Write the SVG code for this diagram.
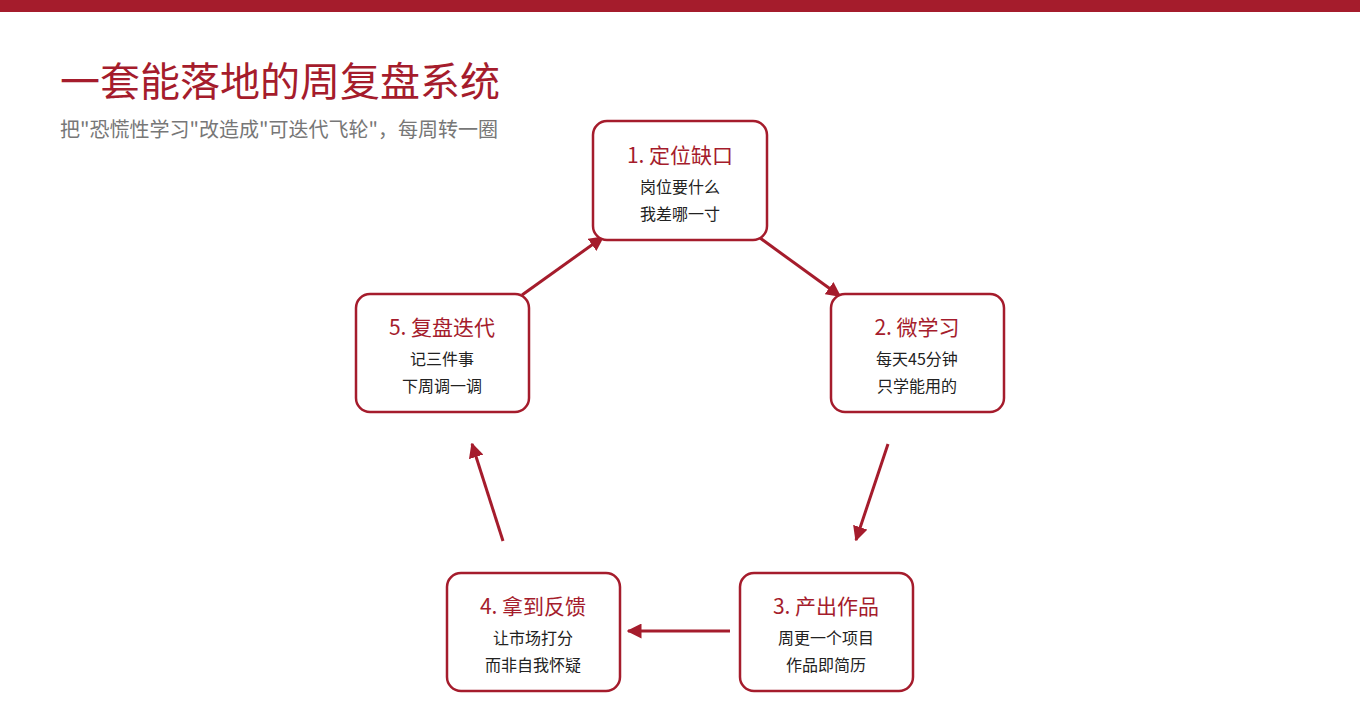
<svg xmlns="http://www.w3.org/2000/svg" width="1360" height="720" viewBox="0 0 1360 720">
<style>
text{font-family:"Noto Sans CJK SC","Noto Sans",sans-serif}
.box{fill:#fff;stroke:#A51C2C;stroke-width:2.5}
.h{font-size:21px;fill:#A51C2C;text-anchor:middle}
.s{font-size:16px;fill:#222;text-anchor:middle}
.c{stroke:#A51C2C;stroke-width:3;fill:none;marker-end:url(#a)}
</style>
<defs><marker id="a" viewBox="0 0 10 10" refX="9" refY="5" markerWidth="5" markerHeight="5" orient="auto"><path d="M0,0L10,5L0,10z" fill="#A51C2C"/></marker></defs>
<rect x="0" y="0" width="1360" height="12" fill="#A51C2C"/>
<text x="60" y="96" font-size="40" fill="#A51C2C">一套能落地的周复盘系统</text>
<text x="60" y="137" font-size="20" fill="#777">把"恐慌性学习"改造成"可迭代飞轮"，每周转一圈</text>
<g id="connectors">
<line class="c" x1="760" y1="238" x2="840" y2="296"/>
<line class="c" x1="888" y1="444" x2="856" y2="540"/>
<line class="c" x1="730" y1="631" x2="628" y2="631"/>
<line class="c" x1="503" y1="541" x2="472" y2="444"/>
<line class="c" x1="522" y1="295" x2="603" y2="237"/>
</g>
<g id="n1"><rect class="box" x="593" y="121" width="174" height="119" rx="14"/><text class="h" x="680" y="163">1. 定位缺口</text><text class="s" x="680" y="193">岗位要什么</text><text class="s" x="680" y="220">我差哪一寸</text></g>
<g id="n2"><rect class="box" x="831" y="294" width="173" height="118" rx="14"/><text class="h" x="917" y="335">2. 微学习</text><text class="s" x="917" y="365">每天45分钟</text><text class="s" x="917" y="392">只学能用的</text></g>
<g id="n3"><rect class="box" x="740" y="573" width="173" height="118" rx="14"/><text class="h" x="826" y="614">3. 产出作品</text><text class="s" x="826" y="644">周更一个项目</text><text class="s" x="826" y="671">作品即简历</text></g>
<g id="n4"><rect class="box" x="447" y="573" width="173" height="118" rx="14"/><text class="h" x="533" y="614">4. 拿到反馈</text><text class="s" x="533" y="644">让市场打分</text><text class="s" x="533" y="671">而非自我怀疑</text></g>
<g id="n5"><rect class="box" x="356" y="294" width="173" height="118" rx="14"/><text class="h" x="442" y="335">5. 复盘迭代</text><text class="s" x="442" y="365">记三件事</text><text class="s" x="442" y="392">下周调一调</text></g>
</svg>
